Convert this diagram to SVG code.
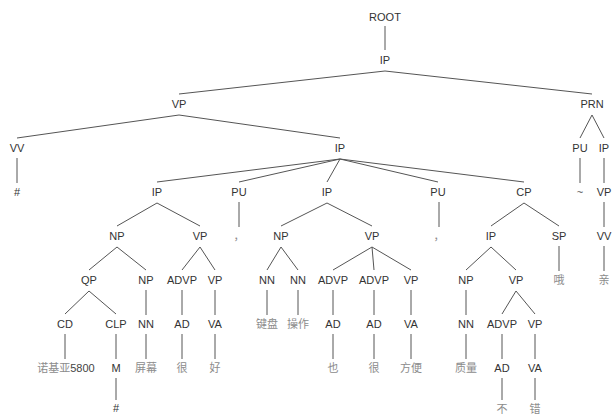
<svg xmlns="http://www.w3.org/2000/svg" width="612" height="415" viewBox="0 0 612 415">
<style>
.l{font-family:"Liberation Sans",Arial,sans-serif;font-size:11px;fill:#333;text-anchor:middle}
.z{font-family:"Noto Sans CJK SC",sans-serif;font-size:11px;fill:#8c8c8c;text-anchor:middle}
#edges line{stroke:#555;stroke-width:1}
</style>
<rect width="612" height="415" fill="#fff"/>
<g id="edges">
<line x1="385" y1="26" x2="385" y2="50"/>
<line x1="385" y1="71" x2="179" y2="94"/>
<line x1="385" y1="71" x2="592" y2="94"/>
<line x1="179" y1="115" x2="17" y2="138"/>
<line x1="179" y1="115" x2="340" y2="138"/>
<line x1="592" y1="115" x2="580" y2="138"/>
<line x1="592" y1="115" x2="604" y2="138"/>
<line x1="17" y1="158" x2="17" y2="183"/>
<line x1="340" y1="159" x2="157" y2="182"/>
<line x1="340" y1="159" x2="239" y2="182"/>
<line x1="340" y1="159" x2="327" y2="182"/>
<line x1="340" y1="159" x2="438" y2="182"/>
<line x1="340" y1="159" x2="524" y2="182"/>
<line x1="580" y1="158" x2="580" y2="183"/>
<line x1="604" y1="158" x2="604" y2="183"/>
<line x1="157" y1="203" x2="117" y2="226"/>
<line x1="157" y1="203" x2="200" y2="226"/>
<line x1="239" y1="202" x2="239" y2="227"/>
<line x1="327" y1="203" x2="281" y2="226"/>
<line x1="327" y1="203" x2="372" y2="226"/>
<line x1="439" y1="202" x2="439" y2="227"/>
<line x1="524" y1="203" x2="491" y2="226"/>
<line x1="524" y1="203" x2="559" y2="226"/>
<line x1="604" y1="202" x2="604" y2="227"/>
<line x1="117" y1="247" x2="89" y2="270"/>
<line x1="117" y1="247" x2="146" y2="270"/>
<line x1="200" y1="247" x2="182" y2="270"/>
<line x1="200" y1="247" x2="215" y2="270"/>
<line x1="281" y1="247" x2="267" y2="270"/>
<line x1="281" y1="247" x2="298" y2="270"/>
<line x1="372" y1="247" x2="333" y2="270"/>
<line x1="372" y1="247" x2="374" y2="270"/>
<line x1="372" y1="247" x2="411" y2="270"/>
<line x1="491" y1="247" x2="466" y2="270"/>
<line x1="491" y1="247" x2="516" y2="270"/>
<line x1="559" y1="246" x2="559" y2="271"/>
<line x1="604" y1="246" x2="604" y2="271"/>
<line x1="89" y1="291" x2="65" y2="314"/>
<line x1="89" y1="291" x2="116" y2="314"/>
<line x1="146" y1="290" x2="146" y2="315"/>
<line x1="182" y1="290" x2="182" y2="315"/>
<line x1="215" y1="290" x2="215" y2="315"/>
<line x1="267" y1="290" x2="267" y2="315"/>
<line x1="298" y1="290" x2="298" y2="315"/>
<line x1="333" y1="290" x2="333" y2="315"/>
<line x1="374" y1="290" x2="374" y2="315"/>
<line x1="411" y1="290" x2="411" y2="315"/>
<line x1="466" y1="290" x2="466" y2="315"/>
<line x1="516" y1="291" x2="502" y2="314"/>
<line x1="516" y1="291" x2="535" y2="314"/>
<line x1="65" y1="334" x2="65" y2="359"/>
<line x1="116" y1="334" x2="116" y2="359"/>
<line x1="146" y1="334" x2="146" y2="359"/>
<line x1="182" y1="334" x2="182" y2="359"/>
<line x1="215" y1="334" x2="215" y2="359"/>
<line x1="333" y1="334" x2="333" y2="359"/>
<line x1="374" y1="334" x2="374" y2="359"/>
<line x1="411" y1="334" x2="411" y2="359"/>
<line x1="466" y1="334" x2="466" y2="359"/>
<line x1="502" y1="334" x2="502" y2="359"/>
<line x1="535" y1="334" x2="535" y2="359"/>
<line x1="116" y1="378" x2="116" y2="400"/>
<line x1="502" y1="378" x2="502" y2="400"/>
<line x1="535" y1="378" x2="535" y2="400"/>
</g>
<g id="n_root"><text class="l" x="385" y="20.5">ROOT</text></g>
<g id="n_ip0"><text class="l" x="385" y="64">IP</text></g>
<g id="n_vp1"><text class="l" x="179" y="108">VP</text></g>
<g id="n_prn"><text class="l" x="592" y="108">PRN</text></g>
<g id="n_vv1"><text class="l" x="17" y="152">VV</text></g>
<g id="n_ip1"><text class="l" x="340" y="152">IP</text></g>
<g id="n_pu_prn"><text class="l" x="580" y="152">PU</text></g>
<g id="n_ip_prn"><text class="l" x="604" y="152">IP</text></g>
<g id="n_hash1"><text class="l" x="17" y="196">#</text></g>
<g id="n_ip2"><text class="l" x="157" y="196">IP</text></g>
<g id="n_pu2"><text class="l" x="239" y="196">PU</text></g>
<g id="n_ip3"><text class="l" x="327" y="196">IP</text></g>
<g id="n_pu3"><text class="l" x="438" y="196">PU</text></g>
<g id="n_cp"><text class="l" x="524" y="196">CP</text></g>
<g id="n_tilde"><text class="l" x="580" y="196" style="fill:#555">~</text></g>
<g id="n_vp_prn"><text class="l" x="604" y="196">VP</text></g>
<g id="n_np_a"><text class="l" x="117" y="240">NP</text></g>
<g id="n_vp_a"><text class="l" x="200" y="240">VP</text></g>
<g id="n_comma1"><text class="z" x="239" y="240">，</text></g>
<g id="n_np_b"><text class="l" x="281" y="240">NP</text></g>
<g id="n_vp_b"><text class="l" x="372" y="240">VP</text></g>
<g id="n_comma2"><text class="z" x="439" y="240">，</text></g>
<g id="n_ip_c"><text class="l" x="491" y="240">IP</text></g>
<g id="n_sp"><text class="l" x="559" y="240">SP</text></g>
<g id="n_vv_prn"><text class="l" x="604" y="240">VV</text></g>
<g id="n_qp"><text class="l" x="89" y="284">QP</text></g>
<g id="n_np_a2"><text class="l" x="146" y="284">NP</text></g>
<g id="n_advp_a"><text class="l" x="182" y="284">ADVP</text></g>
<g id="n_vp_a2"><text class="l" x="215" y="284">VP</text></g>
<g id="n_nn_b1"><text class="l" x="267" y="284">NN</text></g>
<g id="n_nn_b2"><text class="l" x="298" y="284">NN</text></g>
<g id="n_advp_b1"><text class="l" x="333" y="284">ADVP</text></g>
<g id="n_advp_b2"><text class="l" x="374" y="284">ADVP</text></g>
<g id="n_vp_b2"><text class="l" x="411" y="284">VP</text></g>
<g id="n_np_c"><text class="l" x="466" y="284">NP</text></g>
<g id="n_vp_c"><text class="l" x="516" y="284">VP</text></g>
<g id="n_o"><text class="z" x="559" y="284">哦</text></g>
<g id="n_qin"><text class="z" x="604" y="284">亲</text></g>
<g id="n_cd"><text class="l" x="65" y="328">CD</text></g>
<g id="n_clp"><text class="l" x="116" y="328">CLP</text></g>
<g id="n_nn_a"><text class="l" x="146" y="328">NN</text></g>
<g id="n_ad_a"><text class="l" x="182" y="328">AD</text></g>
<g id="n_va_a"><text class="l" x="215" y="328">VA</text></g>
<g id="n_jianpan"><text class="z" x="267" y="328">键盘</text></g>
<g id="n_caozuo"><text class="z" x="298" y="328">操作</text></g>
<g id="n_ad_b1"><text class="l" x="333" y="328">AD</text></g>
<g id="n_ad_b2"><text class="l" x="374" y="328">AD</text></g>
<g id="n_va_b"><text class="l" x="411" y="328">VA</text></g>
<g id="n_nn_c"><text class="l" x="466" y="328">NN</text></g>
<g id="n_advp_c"><text class="l" x="502" y="328">ADVP</text></g>
<g id="n_vp_c2"><text class="l" x="535" y="328">VP</text></g>
<g id="n_nokia"><text class="z" x="66" y="372">诺基亚<tspan style="font-family:'Liberation Sans',Arial,sans-serif;fill:#444">5800</tspan></text></g>
<g id="n_m"><text class="l" x="116" y="372">M</text></g>
<g id="n_pingmu"><text class="z" x="146" y="372">屏幕</text></g>
<g id="n_hen1"><text class="z" x="182" y="372">很</text></g>
<g id="n_hao"><text class="z" x="215" y="372">好</text></g>
<g id="n_ye"><text class="z" x="333" y="372">也</text></g>
<g id="n_hen2"><text class="z" x="374" y="372">很</text></g>
<g id="n_fangbian"><text class="z" x="411" y="372">方便</text></g>
<g id="n_zhiliang"><text class="z" x="466" y="372">质量</text></g>
<g id="n_ad_c"><text class="l" x="502" y="372">AD</text></g>
<g id="n_va_c"><text class="l" x="535" y="372">VA</text></g>
<g id="n_hash2"><text class="l" x="116" y="412">#</text></g>
<g id="n_bu"><text class="z" x="502" y="412.5">不</text></g>
<g id="n_cuo"><text class="z" x="535" y="412.5">错</text></g>
</svg>
